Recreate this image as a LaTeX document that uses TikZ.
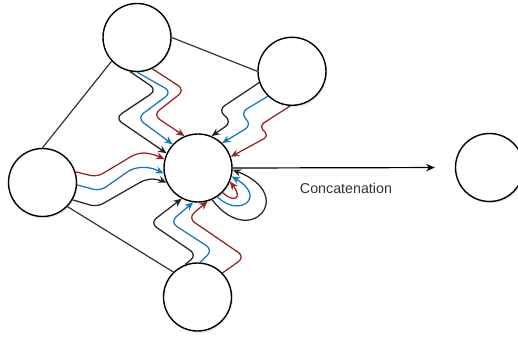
\documentclass[tikz,border=0pt]{standalone}
\usepackage{fontspec}
\setmainfont{Liberation Sans}
\usetikzlibrary{arrows.meta,shadows}
\definecolor{msgblue}{RGB}{22,118,188}
\definecolor{msgred}{RGB}{150,36,36}
\definecolor{labelgray}{RGB}{51,51,51}

\begin{document}
\begin{tikzpicture}[
    x=0.75pt, y=-0.75pt,
    every node/.style={font=\fontsize{10.7}{13}\selectfont},
    neuron/.style={draw, circle, minimum size=51pt, inner sep=0pt, line width=1.05pt, fill=white,
        drop shadow={shadow xshift=1pt, shadow yshift=-1.3pt, opacity=0.18}},
    link/.style={line width=0.9pt, black!80},
    msg/.style={line width=0.95pt, rounded corners=6pt, -{Stealth[length=6.3pt,width=5.4pt]}},
    blackmsg/.style={msg, black!85},
    bluemsg/.style={msg, msgblue},
    redmsg/.style={msg, msgred},
    flow/.style={line width=0.9pt, -{Stealth[length=6.5pt,width=5.5pt]}}
]
\useasboundingbox (0,0) rectangle (518,339);

% neighbours, centre node and output
\node[neuron] (top) at (137,37.5) {};
\node[neuron] (topright) at (292,71.3) {};
\node[neuron] (lft) at (42.5,182.5) {};
\node[neuron] (bot) at (197.5,297) {};
\node[neuron] (mid) at (198,168) {};
\node[neuron] (res) at (489.5,167.5) {};

% graph edges
\draw[link] (top.east) -- (topright.west);
\draw[link] (top.223) -- (lft.north);
\draw[link] (lft.316) -- (bot.134);

% messages from the top node
\draw[blackmsg] (top.258) -- (157,90) -- (115,118) -- (mid.155);
\draw[bluemsg] (top.270) -- (172,92) -- (137,118) -- (mid.137);
\draw[redmsg] (top.296) -- (185,90) -- (153,115) -- (mid.113);

% messages from the upper right node
\draw[blackmsg] (topright.199) -- (218,110) -- (232,122) -- (mid.67);
\draw[bluemsg] (topright.226) -- (240,113) -- (252,125) -- (mid.46);
\draw[redmsg, rounded corners=4pt] (topright.267) -- (259,126) -- (269,136) -- (mid.19);

% messages from the left node
\draw[redmsg, rounded corners=5pt] (lft.18) -- (97,177) -- (137,153) -- (150,153) -- (mid.165);
\draw[bluemsg, rounded corners=5pt] (lft.356) -- (100,191) -- (133,168) -- (150,167) -- (mid.189);
\draw[blackmsg, rounded corners=5pt] (lft.330) -- (97,207) -- (146,179) -- (158,179) -- (mid.205);

% messages from the bottom node
\draw[blackmsg] (bot.111) -- (197,255) -- (150,223) -- (mid.242);
\draw[bluemsg] (bot.86) -- (213,250) -- (170,222) -- (mid.262);
\draw[redmsg] (bot.44) -- (245,257) -- (188,218) -- (mid.286);

% self loops
\draw[blackmsg] (mid.294) .. controls (250,250) and (298,195) .. (mid.357);
\draw[bluemsg] (mid.304) .. controls (238,218) and (268,198) .. (mid.346);
\draw[redmsg] (mid.315) .. controls (232,202) and (244,200) .. (mid.337);

% output
\draw[flow, shorten >=15pt] (mid.east) -- (res.west)
    node[pos=0.51, yshift=-15.75pt, text=labelgray] (cat) {Concatenation};
\end{tikzpicture}
\end{document}
